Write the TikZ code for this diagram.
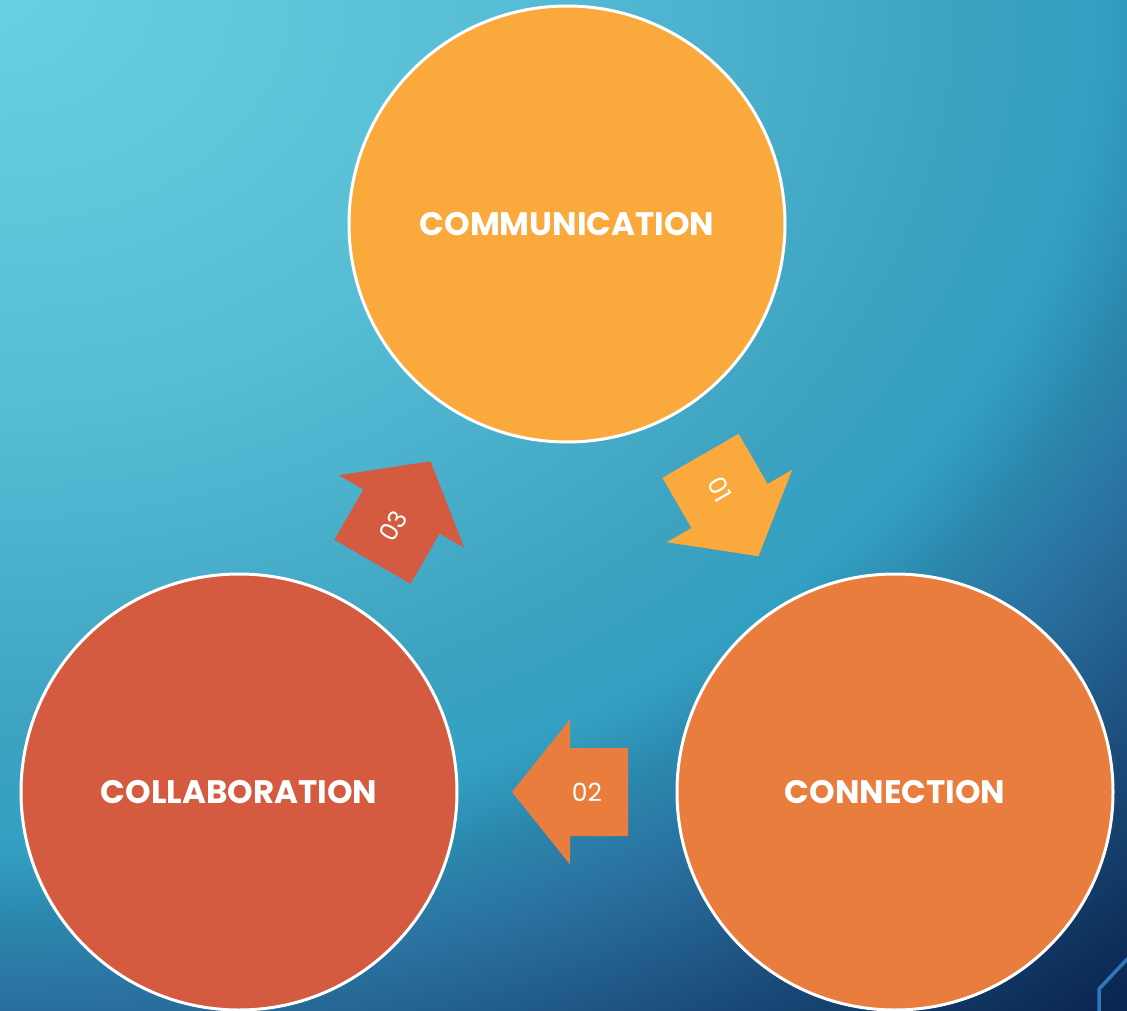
\documentclass[tikz,border=0pt]{standalone}
\usepackage{fontspec}
\usetikzlibrary{shadings}
\setmainfont{Poppins}
\definecolor{sA}{HTML}{68D0E2}
\definecolor{sB}{HTML}{57BDD6}
\definecolor{sC}{HTML}{3CA2C0}
\definecolor{sD}{HTML}{33A0C2}
\definecolor{sE}{HTML}{2B86AC}
\definecolor{sF}{HTML}{2A72A0}
\definecolor{sG}{HTML}{1B4C7A}
\definecolor{sH}{HTML}{0A2550}
\definecolor{cYellow}{HTML}{FAA93D}
\definecolor{cOrange}{HTML}{E87D3E}
\definecolor{cRed}{HTML}{D45B40}
\definecolor{lineBlue}{HTML}{2E78BA}
\pgfdeclareradialshading{bgrad}{\pgfpointorigin}{color(0bp)=(sA); color(7.5bp)=(sB); color(13.8bp)=(sC); color(15.8bp)=(sD); color(17.2bp)=(sE); color(18.6bp)=(sF); color(21.3bp)=(sG); color(24.6bp)=(sH); color(50bp)=(sH)}
\tikzset{
  bubble/.style={circle, minimum size=436pt, inner sep=0pt, draw=white, line width=3pt,
    text=white, font=\bfseries\fontsize{32.5}{38}\selectfont},
  arrowlabel/.style={text=white, font=\fontsize{25}{30}\selectfont, inner sep=0pt},
}
\newcommand{\blockarrow}{(58,0) -- (0,72.5) -- (0,44) -- (-58,44) -- (-58,-44) -- (0,-44) -- (0,-72.5) -- cycle}
\begin{document}
\begin{tikzpicture}[x=1pt,y=-1pt]
\useasboundingbox (0,0) rectangle (1127,1011);
\clip (0,0) rectangle (1127,1011);
\shade[shading=bgrad] (-1742,-1340) rectangle (1742,1340);
\draw[lineBlue, line width=3.5pt] (1132,954) -- (1099,989) -- (1099,1016);

\node[bubble, fill=cYellow] (comm) at (567,224) {COMMUNICATION};
\node[bubble, fill=cRed] (coll) at (239,792) {COLLABORATION};
\node[bubble, fill=cOrange] (conn) at (895,792) {CONNECTION};

\begin{scope}[shift={(729.5,506)}, rotate=-60]
  \fill[cYellow] \blockarrow;
  \node[arrowlabel, rotate=-60] (a1) at (-19,0) {01};
\end{scope}
\begin{scope}[shift={(570,792)}, rotate=180]
  \fill[cOrange] \blockarrow;
  \node[arrowlabel] (a2) at (-17,0) {02};
\end{scope}
\begin{scope}[shift={(401.5,511.5)}, rotate=60]
  \fill[cRed] \blockarrow;
  \node[arrowlabel, rotate=60] (a3) at (-17,0) {03};
\end{scope}
\end{tikzpicture}
\end{document}
